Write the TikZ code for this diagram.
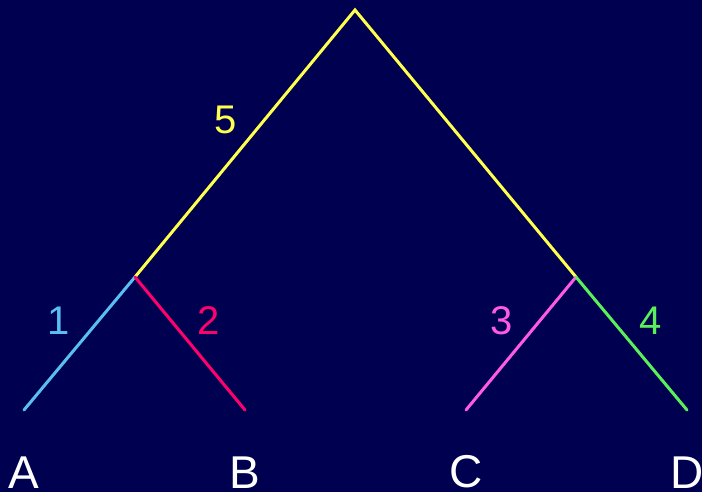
\documentclass[tikz,border=0pt]{standalone}
\usepackage{fontspec}
\setmainfont{Liberation Sans}
\usepackage{tikz}
\usetikzlibrary{positioning}
\usepackage{xcolor}
\definecolor{bgnavy}{RGB}{0,0,80}
\definecolor{brYellow}{RGB}{255,255,80}
\definecolor{brBlue}{RGB}{90,190,240}
\definecolor{brPink}{RGB}{255,0,110}
\definecolor{brMagenta}{RGB}{255,90,230}
\definecolor{brGreen}{RGB}{90,240,90}

\begin{document}
\begin{tikzpicture}[
  x=1pt, y=-1pt,
  branch/.style={line width=3pt, line cap=round},
  blabel/.style={inner sep=0pt, font=\fontsize{40}{48}\selectfont},
  leaf/.style={inner sep=0pt, text=white, font=\fontsize{46}{54}\selectfont}
]
% Background
\fill[bgnavy] (0,0) rectangle (702,492);
\useasboundingbox (0,0) rectangle (702,492);

% Tree points
\coordinate (root) at (355,10);
\coordinate (ab) at (135,277);
\coordinate (cd) at (576,277);
\coordinate (a) at (24,410);
\coordinate (b) at (245,410);
\coordinate (c) at (466,410);
\coordinate (d) at (687,410);

% Branches
\draw[branch, brYellow] (ab) -- (root) -- (cd);
\draw[branch, brBlue] (ab) -- (a);
\draw[branch, brPink] (ab) -- (b);
\draw[branch, brMagenta] (cd) -- (c);
\draw[branch, brGreen] (cd) -- (d);

% Branch labels
\node[blabel, text=brYellow] (l5) at (226,120) {5};
\node[blabel, text=brBlue] (l1) at (59,321) {1};
\node[blabel, text=brPink] (l2) at (209,321) {2};
\node[blabel, text=brMagenta] (l3) at (502,321) {3};
\node[blabel, text=brGreen] (l4) at (651,321) {4};

% Leaf names
\node[leaf] (labA) at (24,473) {A};
\node[leaf] (labB) at (245,473) {B};
\node[leaf] (labC) at (466,472) {C};
\node[leaf] (labD) at (687,473) {D};

\end{tikzpicture}
\end{document}
